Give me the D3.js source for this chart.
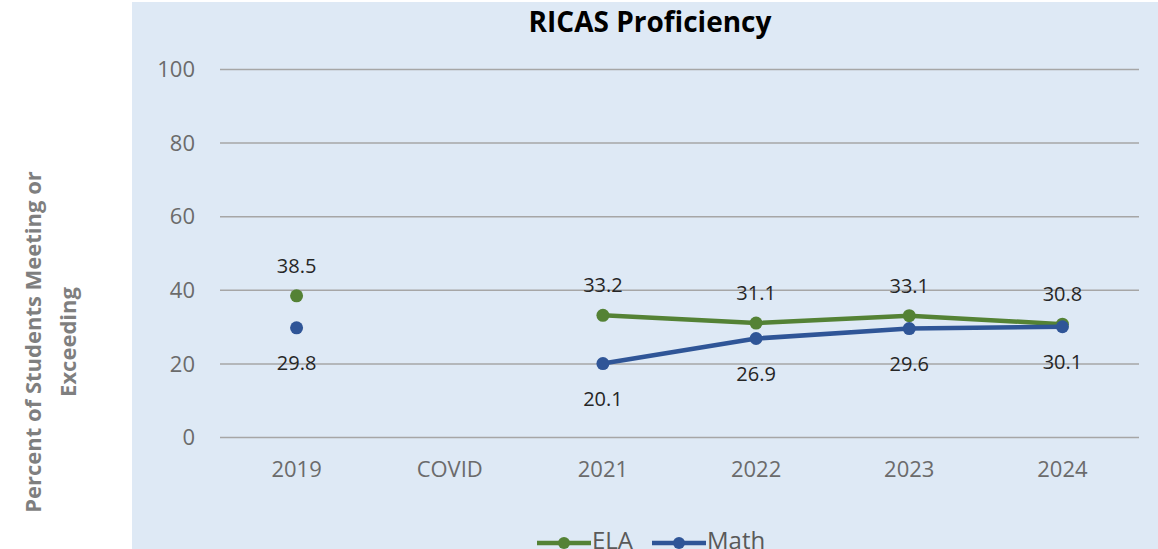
<!DOCTYPE html>
<meta charset="utf-8">
<html>
<head>
<style>
  body { margin: 0; background: #fff; }
  text { font-family: "Open Sans", "Noto Sans", sans-serif; }
</style>
</head>
<body>
<script src="https://d3js.org/d3.v7.min.js"></script>
<div id="chart"></div>
<script>

    // data
    var years = ["2019", "COVID", "2021", "2022", "2023", "2024"];
    var ela  = [38.5, null, 33.2, 31.1, 33.1, 30.8];
    var math = [29.8, null, 20.1, 26.9, 29.6, 30.1];
    var yTicks = [0, 20, 40, 60, 80, 100];

    var W = 1158, H = 549;
    var plot = {left: 220, right: 1139, top: 69.5, bottom: 437.5};

    var svg = d3.select("#chart").append("svg")
        .attr("width", W)
        .attr("height", H);

    // blue panel behind the plot
    svg.append("rect")
        .attr("x", 132).attr("y", 2)
        .attr("width", W - 132).attr("height", H - 2)
        .attr("fill", "#dee9f5");

    var x = d3.scaleBand().domain(years).range([plot.left, plot.right]);
    var y = d3.scaleLinear().domain([0, 100]).range([plot.bottom, plot.top]);
    var cx = function(d) { return x(d) + x.bandwidth() / 2; };

    // gridlines
    svg.append("g").selectAll("line")
        .data(yTicks).enter().append("line")
          .attr("x1", plot.left).attr("x2", plot.right)
          .attr("y1", function(d) { return y(d); })
          .attr("y2", function(d) { return y(d); })
          .attr("stroke", "#a6a6a6")
          .attr("stroke-width", 1.5);

    // y tick labels
    svg.append("g").selectAll("text")
        .data(yTicks).enter().append("text")
          .attr("x", 195)
          .attr("y", function(d) { return y(d); })
          .attr("dy", "0.35em")
          .attr("text-anchor", "end")
          .style("font-size", "22px")
          .style("fill", "#6b6b6b")
          .text(function(d) { return d; });

    // x tick labels
    svg.append("g").selectAll("text")
        .data(years).enter().append("text")
          .attr("x", cx)
          .attr("y", 469)
          .attr("dy", "0.35em")
          .attr("text-anchor", "middle")
          .style("font-size", "22px")
          .style("fill", "#6b6b6b")
          .text(function(d) { return d; });

    // title
    svg.append("text")
        .attr("x", 650).attr("y", 22)
        .attr("dy", "0.35em")
        .attr("text-anchor", "middle")
        .style("font-size", "28px")
        .style("font-weight", "bold")
        .style("fill", "#000")
        .text("RICAS Proficiency");

    // y axis label (two lines, rotated)
    var yl = svg.append("text")
        .attr("transform", "translate(51,342) rotate(-90)")
        .attr("text-anchor", "middle")
        .style("font-size", "22px")
        .style("font-weight", "bold")
        .style("fill", "#7f7f7f");
    yl.append("tspan").attr("x", 0).attr("y", -18).attr("dy", "0.35em").text("Percent of Students Meeting or");
    yl.append("tspan").attr("x", 0).attr("y", 17).attr("dy", "0.35em").text("Exceeding");

    var series = [
        {name: "ELA", values: ela, color: "#548235", labelDy: -30},
        {name: "Math", values: math, color: "#2f5597", labelDy: 35}
    ];

    var line = d3.line()
        .defined(function(d) { return d.v != null; })
        .x(function(d) { return cx(d.year); })
        .y(function(d) { return y(d.v); });

    series.forEach(function(s) {
        var pts = years.map(function(yr, i) { return {year: yr, v: s.values[i]}; });
        // COVID gap breaks the line; 2019 stays a lone dot
        svg.append("path")
            .datum(pts)
            .attr("d", line)
            .attr("fill", "none")
            .attr("stroke", s.color)
            .attr("stroke-width", 4.5)
            .attr("stroke-linejoin", "round");

        var ok = pts.filter(function(d) { return d.v != null; });
        svg.append("g").selectAll("circle")
            .data(ok).enter().append("circle")
              .attr("cx", function(d) { return cx(d.year); })
              .attr("cy", function(d) { return y(d.v); })
              .attr("r", 6.5)
              .attr("fill", s.color);

        svg.append("g").selectAll("text")
            .data(ok).enter().append("text")
              .attr("x", function(d) { return cx(d.year); })
              .attr("y", function(d) { return y(d.v) + s.labelDy; })
              .attr("dy", "0.35em")
              .attr("text-anchor", "middle")
              .style("font-size", "20px")
              .style("fill", "#262626")
              .text(function(d) { return d.v.toFixed(1); });
    });

    // legend, sitting on the bottom edge like the original
    var legend = svg.append("g");
    var lx = [537, 652];
    series.forEach(function(s, i) {
        var g = legend.append("g").attr("transform", "translate(" + lx[i] + ",543)");
        g.append("line")
            .attr("x1", 0).attr("x2", 54)
            .attr("stroke", s.color).attr("stroke-width", 4.5);
        g.append("circle").attr("cx", 27).attr("r", 6).attr("fill", s.color);
        g.append("text")
            .attr("x", 55).attr("y", 6)
            .style("font-size", "24px")
            .style("fill", "#595959")
            .text(s.name);
    });

</script>
</body>
</html>
